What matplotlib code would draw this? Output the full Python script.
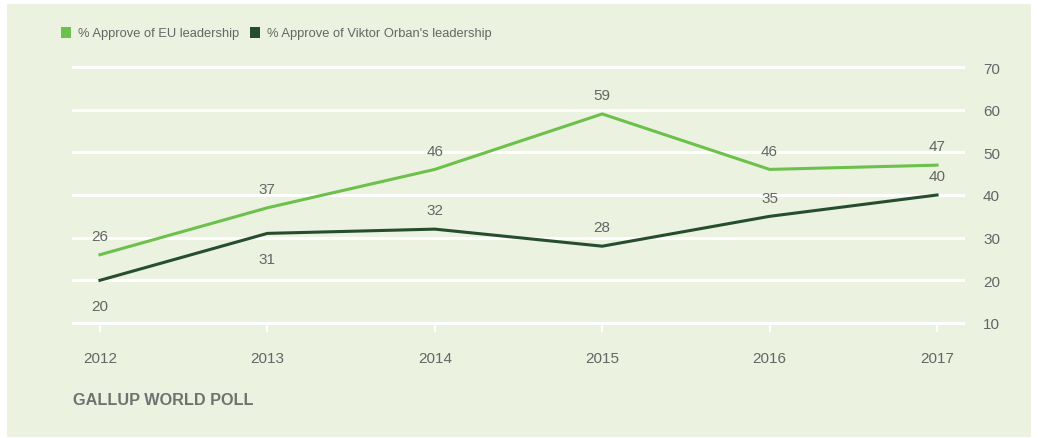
import matplotlib.pyplot as plt
import matplotlib.patches as patches

years = [2012, 2013, 2014, 2015, 2016, 2017]
eu_approve = [26, 37, 46, 59, 46, 47]
orban_approve = [20, 31, 32, 28, 35, 40]
# label placement for the Orban series: +1 above the point, -1 below
orban_label_side = [-1, -1, 1, 1, 1, 1]
y_ticks = [10, 20, 30, 40, 50, 60, 70]

series_names = ["% Approve of EU leadership", "% Approve of Viktor Orban's leadership"]
source_note = "GALLUP WORLD POLL"

BG = "#ebf2df"
EU_GREEN = "#6cc04c"
DARK_GREEN = "#264d2e"
TEXT_GREY = "#666666"

plt.rcParams["font.family"] = ["Liberation Sans", "DejaVu Sans"]

W, H = 1038, 439
fig = plt.figure(figsize=(W / 100, H / 100), dpi=100)
fig.patch.set_facecolor("white")

# light green panel behind everything
fig.patches.append(
    patches.Rectangle((7 / W, 1 / H), (W - 14) / W, (H - 6) / H,
                      transform=fig.transFigure, facecolor=BG,
                      edgecolor="none", zorder=-5)
)

ax = fig.add_axes([72 / W, 1 - 332.5 / H, (965 - 72) / W, (332.5 - 59.5) / H])
ax.set_zorder(2)
ax.set_facecolor("none")
ax.set_xlim(2011.833, 2017.167)
ax.set_ylim(8, 72)

for v in y_ticks:
    ax.axhline(v, color="white", lw=2.2, zorder=1)
ax.vlines(years, 7.9, 10, color="white", lw=1.6, zorder=1)

ax.plot(years, eu_approve, color=EU_GREEN, lw=2.2, zorder=3,
        solid_joinstyle="miter")
ax.plot(years, orban_approve, color=DARK_GREEN, lw=2.2, zorder=3,
        solid_joinstyle="miter")

for x, v in zip(years, eu_approve):
    ax.annotate(str(v), (x, v), xytext=(0, 13.5), textcoords="offset points",
                ha="center", va="center", fontsize=11, color=TEXT_GREY)
for x, v, side in zip(years, orban_approve, orban_label_side):
    dy = 13.5 if side > 0 else -18.5
    ax.annotate(str(v), (x, v), xytext=(0, dy), textcoords="offset points",
                ha="center", va="center", fontsize=11, color=TEXT_GREY)

for s in ax.spines.values():
    s.set_visible(False)

ax.set_xticks(years)
ax.set_xticklabels([str(y) for y in years])
ax.yaxis.tick_right()
ax.set_yticks(y_ticks)
ax.tick_params(axis="both", length=0, labelsize=11, labelcolor=TEXT_GREY)
ax.tick_params(axis="x", pad=14)
ax.tick_params(axis="y", pad=13)

# legend swatches and labels
fig.patches.append(
    patches.Rectangle((61 / W, 1 - 39 / H), 10 / W, 11 / H,
                      transform=fig.transFigure, facecolor=EU_GREEN,
                      edgecolor="none")
)
fig.text(78 / W, 1 - 34 / H, series_names[0], fontsize=9.3,
         color=TEXT_GREY, va="center", ha="left")
fig.patches.append(
    patches.Rectangle((250 / W, 1 - 39 / H), 10 / W, 11 / H,
                      transform=fig.transFigure, facecolor=DARK_GREEN,
                      edgecolor="none")
)
fig.text(267 / W, 1 - 34 / H, series_names[1], fontsize=9.3,
         color=TEXT_GREY, va="center", ha="left")

fig.text(73 / W, 1 - 401 / H, source_note, fontsize=11.7, fontweight="bold",
         color="#717171", va="center", ha="left")

fig.savefig("out.png", dpi=100, facecolor=fig.get_facecolor())
